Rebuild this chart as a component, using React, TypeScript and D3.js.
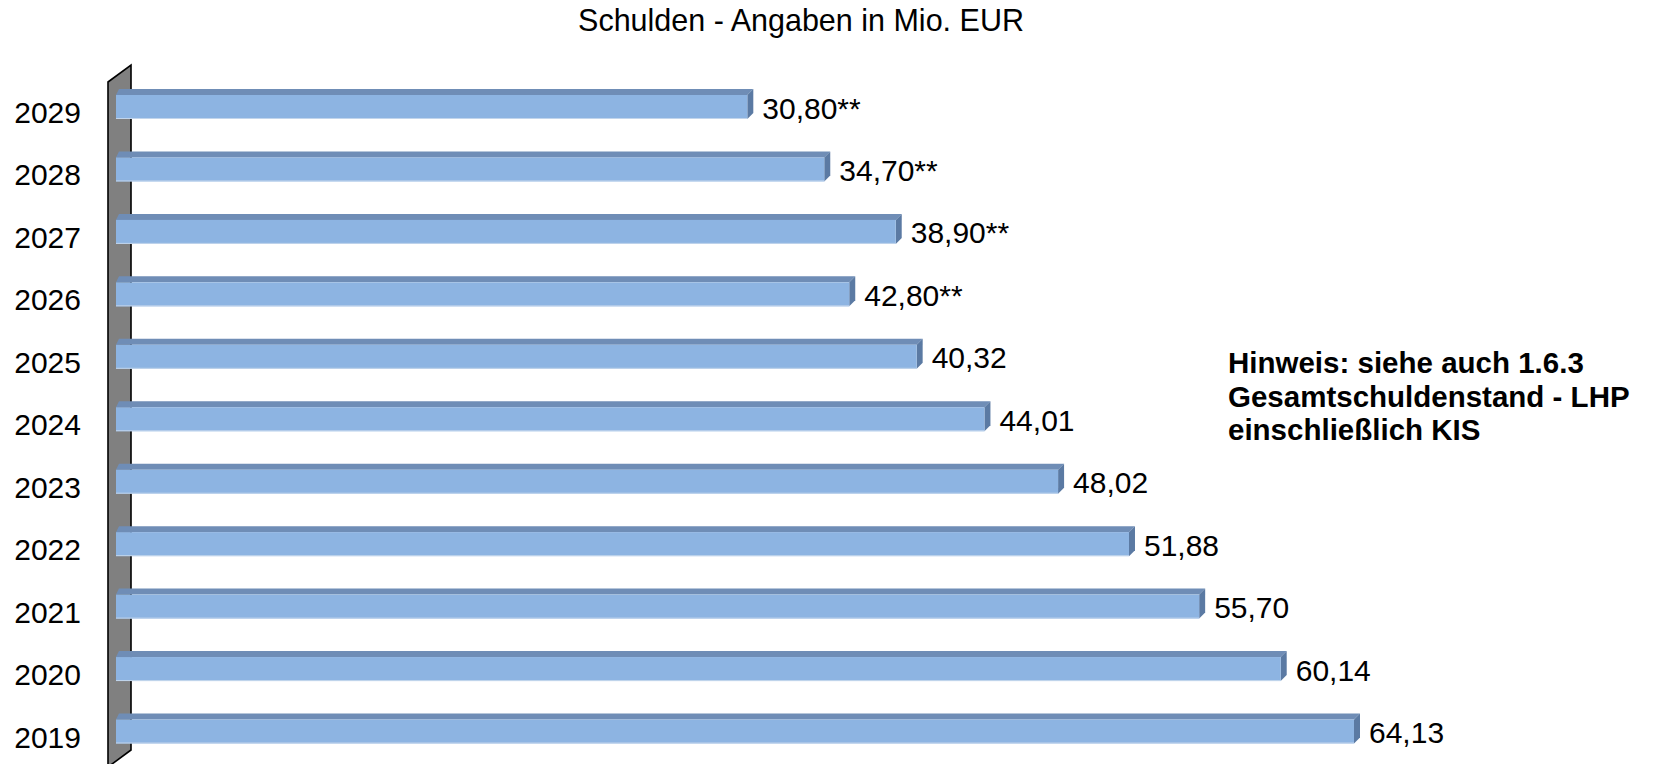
import React from "react";
import * as d3 from "d3";

const years = ["2019", "2020", "2021", "2022", "2023", "2024", "2025", "2026", "2027", "2028", "2029"];
// bar lengths
const barValues = [64.13, 60.14, 55.7, 51.88, 48.02, 44.01, 40.32, 36.65, 39.18, 35.29, 31.1];
// data labels as printed
const valueLabels = ["64,13", "60,14", "55,70", "51,88", "48,02", "44,01", "40,32", "42,80**", "38,90**", "34,70**", "30,80**"];
const title = "Schulden - Angaben in Mio. EUR";
const noteLines = ["Hinweis: siehe auch 1.6.3", "Gesamtschuldenstand - LHP", "einschließlich KIS"];

const W = 1661;
const H = 764;
const FONT = "'Liberation Sans', Arial, sans-serif";

export default function App() {
  const x = d3.scaleLinear().domain([-3.27, 64.13]).range([116, 1354]);
  const y = d3.scalePoint<string>().domain([...years].reverse()).range([107, 731.5]);
  const barH = 24;
  const depthY = 6;

  const wall = d3.path();
  wall.moveTo(108, 82);
  wall.lineTo(131, 65);
  wall.lineTo(131, 750);
  wall.lineTo(108, 767);
  wall.closePath();

  return (
    <svg
      width={W}
      height={H}
      style={{ position: "absolute", left: 0, top: 0, display: "block", background: "#fff" }}
      fontFamily={FONT}
    >
      <text x={801} y={31} textAnchor="middle" fontSize={30.5} fill="#000">
        {title}
      </text>

      <path d={wall.toString()} fill="#808080" stroke="#000" strokeWidth={1.6} />

      {years.map((yr, i) => {
        const c = y(yr)!;
        const x0 = x.range()[0];
        const x1 = x(barValues[i]);
        const top = c - barH / 2;
        const bot = c + barH / 2;
        const topFace = `M${x0},${top} L${x0 + 3},${top - depthY} L${x1 + 6},${top - depthY} L${x1},${top} Z`;
        const sideFace = `M${x1},${top} L${x1 + 6},${top - depthY} L${x1 + 6},${bot - depthY} L${x1},${bot} Z`;
        return (
          <g key={yr}>
            <path d={topFace} fill="#6f8db6" />
            <path d={sideFace} fill="#5b7aa3" />
            <rect x={x0} y={top} width={x1 - x0} height={barH} fill="#8db4e2" />
            <line x1={x0} x2={x1} y1={bot - 0.5} y2={bot - 0.5} stroke="#c2d5ec" strokeWidth={1} />
            <text x={x1 + 15} y={c + 11.5} fontSize={30} fill="#000">
              {valueLabels[i]}
            </text>
            <text x={81} y={c + 16} fontSize={30} textAnchor="end" fill="#000">
              {yr}
            </text>
          </g>
        );
      })}

      <text fontSize={29.5} fontWeight="bold" fill="#000">
        {noteLines.map((l, i) => (
          <tspan key={i} x={1228} y={373 + i * 33.5}>
            {l}
          </tspan>
        ))}
      </text>
    </svg>
  );
}
